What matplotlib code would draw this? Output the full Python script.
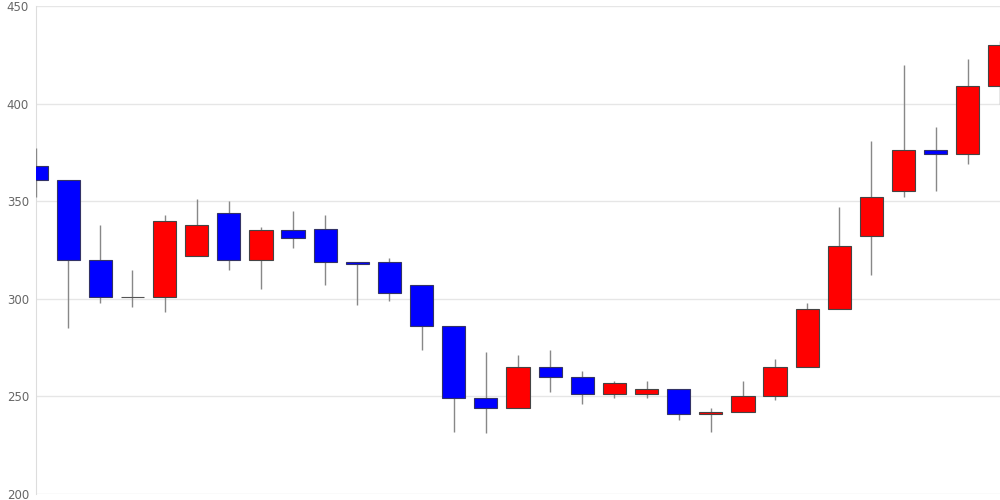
import numpy as np
import matplotlib.pyplot as plt

opens  = [368, 361, 320, 301, 301, 322, 344, 320, 335, 336, 319, 319, 307, 286, 249, 244,
          265, 260, 251, 251, 254, 241, 242, 250, 265, 295, 332, 355, 376, 374, 409]
closes = [361, 320, 301, 301, 340, 338, 320, 335, 331, 319, 318, 303, 286, 249, 244, 265,
          260, 251, 257, 254, 241, 242, 250, 265, 295, 327, 352, 376, 374, 409, 430]
highs  = [377, 361, 338, 315, 343, 351, 350, 337, 345, 343, 319, 321, 307, 286, 273, 271,
          274, 263, 258, 258, 254, 244, 258, 269, 298, 347, 381, 420, 388, 423, 432]
lows   = [352, 285, 298, 296, 293, 322, 315, 305, 326, 307, 297, 299, 274, 232, 231, 244,
          252, 246, 249, 249, 238, 232, 242, 248, 265, 295, 312, 352, 355, 369, 400]
yticks = [200, 250, 300, 350, 400, 450]

o = np.array(opens)
c = np.array(closes)
x = np.arange(len(o))

fig = plt.figure(figsize=(10, 5), dpi=100)
ax = fig.add_axes([0.036, 0.012, 0.964, 0.976])

colors = np.where(c > o, '#ff0000', np.where(c < o, '#0000ff', '#555555'))
edges = np.where(c > o, '#444444', np.where(c < o, '#333366', '#555555'))

# wicks above the spine so the first one shows over the axis line
ax.vlines(x, lows, highs, color='#888888', linewidth=1, zorder=2.6)
bot = np.minimum(o, c)
h = np.abs(c - o)
ax.bar(x, h, bottom=bot, width=0.72, color=colors, edgecolor=edges,
       linewidth=0.8, zorder=3)

ax.set_xlim(0, len(o) - 1)
ax.set_ylim(200, 450)
ax.set_yticks(yticks)
ax.set_xticks([])
ax.grid(axis='y', color='#e6e6e6', linewidth=1)
ax.set_axisbelow(True)
for s in ['top', 'right', 'bottom']:
    ax.spines[s].set_visible(False)
ax.spines['left'].set_color('#dddddd')
ax.tick_params(axis='y', length=0, pad=5, labelsize=8.5, labelcolor='#666666')

fig.savefig('out.png')
